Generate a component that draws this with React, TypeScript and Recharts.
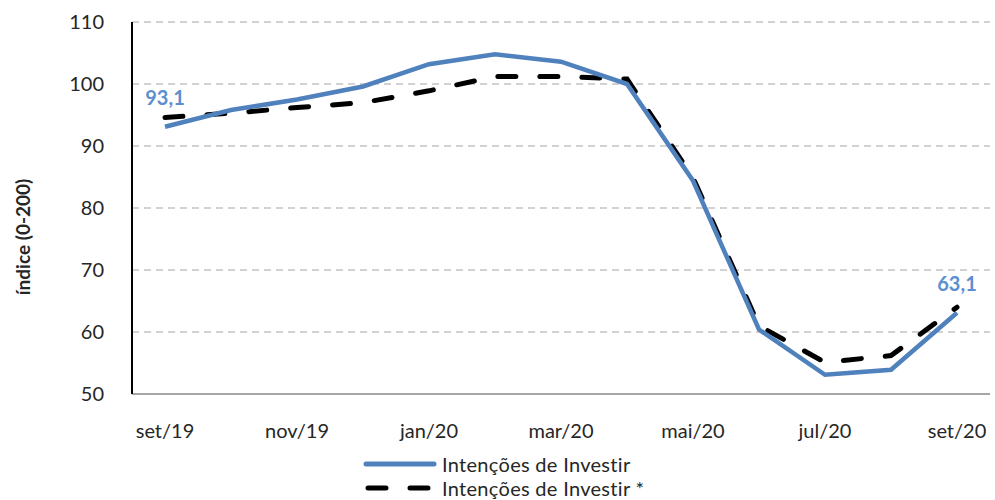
import { CartesianGrid, Line, LineChart, XAxis, YAxis } from "recharts";

const months = [
  "set/19", "out/19", "nov/19", "dez/19", "jan/20", "fev/20", "mar/20",
  "abr/20", "mai/20", "jun/20", "jul/20", "ago/20", "set/20",
];
const intencoes = [93.1, 95.8, 97.5, 99.6, 103.2, 104.8, 103.6, 100.0, 84.4, 60.4, 53.1, 53.9, 63.1];
const intencoesAjust = [94.6, 95.3, 96.2, 97.0, 98.9, 101.2, 101.2, 100.8, 84.9, 61.0, 55.1, 56.2, 64.0];
const yTicks = [50, 60, 70, 80, 90, 100, 110];

const data = months.map((m, i) => ({ month: m, a: intencoes[i], b: intencoesAjust[i] }));

const FONT = "Lato, 'Open Sans', sans-serif";
const BLUE = "#4f81bd";
const LABEL_BLUE = "#5b8fd0";

function EndLabel(props: any) {
  const { x, y, index, value } = props;
  if (index !== 0 && index !== months.length - 1) return null;
  return (
    <text
      x={x}
      y={y - 30}
      textAnchor="middle"
      dominantBaseline="central"
      fontFamily={FONT}
      fontSize={20}
      fontWeight={700}
      fill={LABEL_BLUE}
    >
      {String(value.toFixed(1)).replace(".", ",")}
    </text>
  );
}

function LegendBox() {
  return (
    <div
      style={{
        position: "absolute",
        left: 362,
        top: 452,
        fontFamily: FONT,
        fontSize: 20,
        color: "#262626",
        lineHeight: "24px",
        letterSpacing: "0.3px",
      }}
    >
      <div style={{ display: "flex", alignItems: "center" }}>
        <svg width={80} height={24}>
          <line x1={4} y1={12} x2={72} y2={12} stroke={BLUE} strokeWidth={5} strokeLinecap="round" />
        </svg>
        <span>Intenções de Investir</span>
      </div>
      <div style={{ display: "flex", alignItems: "center" }}>
        <svg width={80} height={24}>
          <line
            x1={6}
            y1={12}
            x2={72}
            y2={12}
            stroke="#000"
            strokeWidth={5}
            strokeLinecap="round"
            strokeDasharray="18 24"
          />
        </svg>
        <span>Intenções de Investir *</span>
      </div>
    </div>
  );
}

export default function App() {
  return (
    <div style={{ position: "absolute", left: 0, top: 0, width: 995, height: 500, background: "#fff" }}>
      <LineChart width={995} height={500} data={data} margin={{ top: 22, right: 5, bottom: 66, left: 0 }}>
        <CartesianGrid vertical={false} stroke="#c4c4c4" strokeWidth={1.5} strokeDasharray="7 5" />
        <XAxis
          dataKey="month"
          interval={1}
          padding={{ left: 33, right: 33 }}
          height={40}
          tickLine={false}
          axisLine={{ stroke: "#a6a6a6", strokeWidth: 2 }}
          tickMargin={24}
          tick={{ fontFamily: FONT, fontSize: 20, fill: "#262626" }}
        />
        <YAxis
          width={132}
          domain={[50, 110]}
          ticks={yTicks}
          tickLine={false}
          axisLine={{ stroke: "#000", strokeWidth: 2 }}
          tickMargin={22}
          tick={{ fontFamily: FONT, fontSize: 20, fill: "#262626" }}
          label={{
            content: () => (
              <text
                x={22}
                y={237}
                transform="rotate(-90 22 237)"
                textAnchor="middle"
                dominantBaseline="central"
                fontFamily={FONT}
                fontSize={19}
                fontWeight={700}
                fill="#262626"
              >
                índice  (0-200)
              </text>
            ),
          }}
        />
        <Line
          dataKey="b"
          stroke="#000"
          strokeWidth={5}
          strokeDasharray="18 24"
          strokeLinecap="round"
          dot={false}
          isAnimationActive={false}
        />
        <Line
          dataKey="a"
          stroke={BLUE}
          strokeWidth={4.5}
          dot={false}
          isAnimationActive={false}
          label={<EndLabel />}
        />
      </LineChart>
      <LegendBox />
    </div>
  );
}
